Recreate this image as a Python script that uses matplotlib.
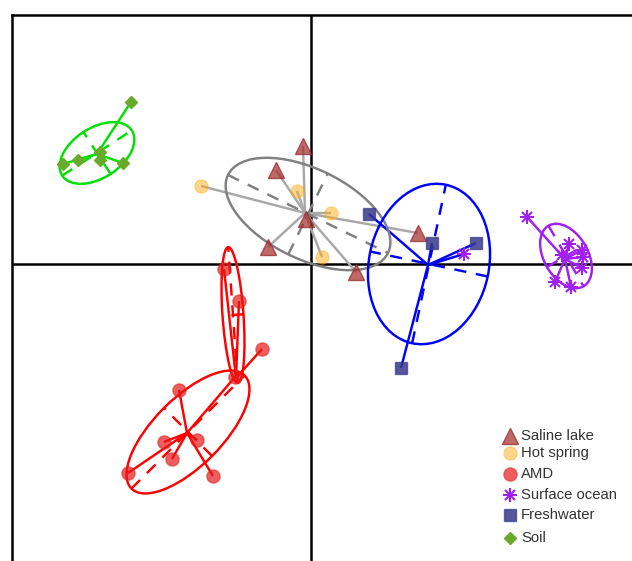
import matplotlib.pyplot as plt
from matplotlib.patches import Ellipse
import numpy as np

# Ordination scores per habitat
saline_x = [-0.08, -0.35, -0.05, -0.43, 1.07, 0.45]
saline_y = [1.18, 0.94, 0.45, 0.17, 0.31, -0.08]

hotspring_x = [-1.10, -0.14, 0.20, 0.11]
hotspring_y = [0.78, 0.73, 0.51, 0.07]

amd_x = [-0.87, -0.72, -0.49, -0.76, -1.32, -1.47, -1.14, -1.39, -1.83, -0.98]
amd_y = [-0.05, -0.37, -0.85, -1.13, -1.26, -1.78, -1.76, -1.95, -2.09, -2.12]

ocean_x = [2.16, 2.58, 2.51, 2.71, 2.72, 2.71, 2.44, 2.60, 1.53]
ocean_y = [0.47, 0.20, 0.09, 0.14, 0.07, -0.04, -0.18, -0.23, 0.10]

fresh_x = [0.58, 1.21, 1.65, 0.90]
fresh_y = [0.50, 0.21, 0.21, -1.04]

soil_x = [-1.80, -2.48, -2.33, -2.11, -2.11, -1.88]
soil_y = [1.62, 1.00, 1.04, 1.12, 1.04, 1.01]

habitats = {
    'saline': (saline_x, saline_y),
    'hot': (hotspring_x, hotspring_y),
    'amd': (amd_x, amd_y),
    'ocean': (ocean_x, ocean_y),
    'fresh': (fresh_x, fresh_y),
    'soil': (soil_x, soil_y),
}

# Clusters: spider centre, ellipse (centre, semi-axes, angle) and members
cluster_names = ['soil', 'mixed', 'fresh', 'ocean', 'amd_a', 'amd_b']
cluster_colors = ['#00e000', '#808080', '#0000ff', '#a020f0', '#ff0000', '#ff0000']
spider_colors = ['#00e000', '#a8a8a8', '#0000ff', '#a020f0', '#ff0000', '#ff0000']
hub_x = [-2.14, -0.06, 1.17, 2.54, -0.75, -1.24]
hub_y = [1.10, 0.51, -0.01, 0.05, -1.14, -1.69]
ell_x = [-2.14, -0.03, 1.18, 2.55, -0.78, -1.23]
ell_y = [1.11, 0.50, 0.00, 0.08, -0.51, -1.68]
ell_a = [0.415, 0.89, 0.81, 0.35, 0.68, 0.80]
ell_b = [0.25, 0.45, 0.60, 0.22, 0.105, 0.34]
ell_angle = [33, -26, 78, -60, 94, 45]
members = [
    [('soil', i) for i in range(6)],
    [('saline', i) for i in range(6)] + [('hot', i) for i in range(4)],
    [('fresh', i) for i in range(4)] + [('ocean', 8)],
    [('ocean', i) for i in range(8)],
    [('amd', i) for i in range(4)],
    [('amd', i) for i in range(3, 10)],
]

LW = 1.75

fig = plt.figure(figsize=(6.32, 5.61), dpi=100)
ax = fig.add_axes([12 / 632, 1 - 580 / 561, 648 / 632, 565 / 561])
ax.set_xlim(-2.99, 3.49)
ax.set_ylim(-3.16, 2.49)
ax.set_xticks([])
ax.set_yticks([])
for s in ax.spines.values():
    s.set_linewidth(1.8)

ax.axhline(0, color='black', lw=1.8, zorder=1)
ax.axvline(0, color='black', lw=1.8, zorder=1)

for k in range(len(cluster_names)):
    col = cluster_colors[k]
    # spider lines
    for hab, i in members[k]:
        px = habitats[hab][0][i]
        py = habitats[hab][1][i]
        ax.plot([hub_x[k], px], [hub_y[k], py], color=spider_colors[k], lw=LW,
                solid_capstyle='butt', zorder=2)
    # ellipse and its dashed axes
    e = Ellipse((ell_x[k], ell_y[k]), 2 * ell_a[k], 2 * ell_b[k], angle=ell_angle[k],
                fill=False, edgecolor=col, lw=LW, zorder=3)
    ax.add_patch(e)
    t = np.deg2rad(ell_angle[k])
    for r, th in [(ell_a[k], t), (ell_b[k], t + np.pi / 2)]:
        dx, dy = r * np.cos(th), r * np.sin(th)
        ax.plot([ell_x[k] - dx, ell_x[k] + dx], [ell_y[k] - dy, ell_y[k] + dy],
                color=col, lw=LW, linestyle=(0, (5, 4)), zorder=3)

# marker styles per habitat
saline_kw = dict(marker='^', ms=11, mfc=(0.65, 0.16, 0.16, 0.7),
                 mec=(0.6, 0.2, 0.2, 0.8), mew=1)
hot_kw = dict(marker='o', ms=9.5, mfc=(1.0, 0.68, 0.1, 0.5),
              mec=(1.0, 0.68, 0.1, 0.4), mew=1)
amd_kw = dict(marker='o', ms=9.5, mfc=(0.9, 0.1, 0.1, 0.7),
              mec=(0.9, 0.15, 0.15, 0.6), mew=1)
fresh_kw = dict(marker='s', ms=8, mfc=(0.22, 0.22, 0.55, 0.85),
                mec=(0.22, 0.22, 0.55, 0.7), mew=1)
soil_kw = dict(marker='D', ms=6.5, mfc='#6aaa2a', mec='#6aaa2a', mew=1)
star_plus = dict(marker='+', ms=10, color='#a020f0', mew=1.5)
star_x = dict(marker='x', ms=7.5, color='#a020f0', mew=1.5)

# sample points
ax.plot(saline_x, saline_y, ls='none', zorder=5, **saline_kw)
ax.plot(hotspring_x, hotspring_y, ls='none', zorder=5, **hot_kw)
ax.plot(amd_x, amd_y, ls='none', zorder=5, **amd_kw)
ax.plot(ocean_x, ocean_y, ls='none', zorder=5, **star_plus)
ax.plot(ocean_x, ocean_y, ls='none', zorder=5, **star_x)
ax.plot(fresh_x, fresh_y, ls='none', zorder=5, **fresh_kw)
ax.plot(soil_x, soil_y, ls='none', zorder=5, **soil_kw)

# legend
legend_labels = ['Saline lake', 'Hot spring', 'AMD', 'Surface ocean', 'Freshwater', 'Soil']
legend_rows = [436, 453, 474, 495, 515, 538]
legend_styles = [[saline_kw], [hot_kw], [amd_kw], [star_plus, star_x], [fresh_kw], [soil_kw]]
tf = fig.transFigure


def fpos(px, py):
    return px / 632, 1 - py / 561


for lab, row, styles in zip(legend_labels, legend_rows, legend_styles):
    mx, my = fpos(510, row)
    for kw in styles:
        fig.lines.append(plt.Line2D([mx], [my], ls='none', transform=tf, **kw))
    tx, ty = fpos(521, row)
    fig.text(tx, ty, lab, fontsize=10.7, family='Liberation Sans', color='#333333',
             va='center', ha='left')

fig.savefig('out.png', dpi=100)
